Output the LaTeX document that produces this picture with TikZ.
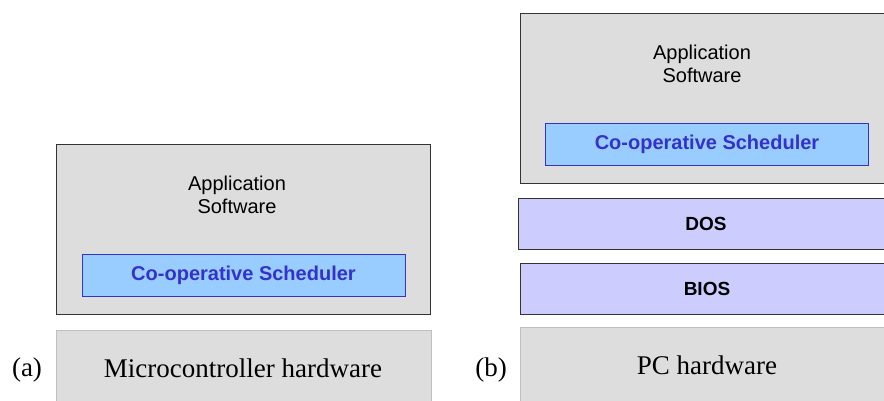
\documentclass[tikz,border=0pt]{standalone}
\usepackage{fontspec}
\setmainfont{Liberation Serif}
\setsansfont{Liberation Sans}
\usetikzlibrary{positioning}

\definecolor{layergray}{HTML}{DDDDDD}
\definecolor{schedblue}{HTML}{99CCFF}
\definecolor{schedtext}{HTML}{3333CC}
\definecolor{oslilac}{HTML}{CCCCFF}

\begin{document}
\begin{tikzpicture}[x=1pt, y=1pt, thick,
    app/.style = {draw=black!80, fill=layergray, line width=0.8pt, minimum width=374pt, minimum height=170pt, inner sep=0pt},
    sched/.style = {draw=schedtext, fill=schedblue, line width=0.8pt, minimum width=323pt, minimum height=42pt, inner sep=0pt,
        text=schedtext, font=\sffamily\bfseries\fontsize{20}{24}\selectfont},
    oslayer/.style = {draw=black!80, fill=oslilac, line width=0.8pt, minimum width=376pt, minimum height=51pt, inner sep=0pt,
        font=\sffamily\bfseries\fontsize{19}{23}\selectfont},
    hw/.style = {draw=black!25, fill=layergray, line width=0.8pt, minimum width=375pt, minimum height=90pt, inner sep=0pt},
    hwtext/.style = {font=\fontsize{27}{32}\selectfont},
    apptext/.style = {align=center, font=\sffamily\fontsize{20}{23}\selectfont},
    tag/.style = {font=\fontsize{27}{32}\selectfont}]
    \clip (0,0) rectangle (884,-401);

    % (a) microcontroller
    \node[app] (appA) at (243.5,-229) {};
    \node[apptext] (appAtext) at (237,-195) {Application\\Software};
    \node[sched] (schedA) at (243.5,-275) {Co-operative Scheduler};
    \node[hw] (hwA) at (243.5,-375) {};
    \node[hwtext] (hwAtext) at (243,-368) {Microcontroller hardware};
    \node[tag] (tagA) at (27,-370) {(a)};

    % (b) PC
    \node[app] (appB) at (707,-98.5) {};
    \node[apptext] (appBtext) at (702,-64) {Application\\Software};
    \node[sched] (schedB) at (707,-144.5) {Co-operative Scheduler};
    \node[oslayer] (dos) at (706,-224) {DOS};
    \node[oslayer, minimum width=374pt] (bios) at (707,-288.5) {BIOS};
    \node[hw, minimum width=374pt] (hwB) at (707,-372) {};
    \node[hwtext] (hwBtext) at (707,-365) {PC hardware};
    \node[tag] (tagB) at (491,-370) {(b)};

\end{tikzpicture}
\end{document}
